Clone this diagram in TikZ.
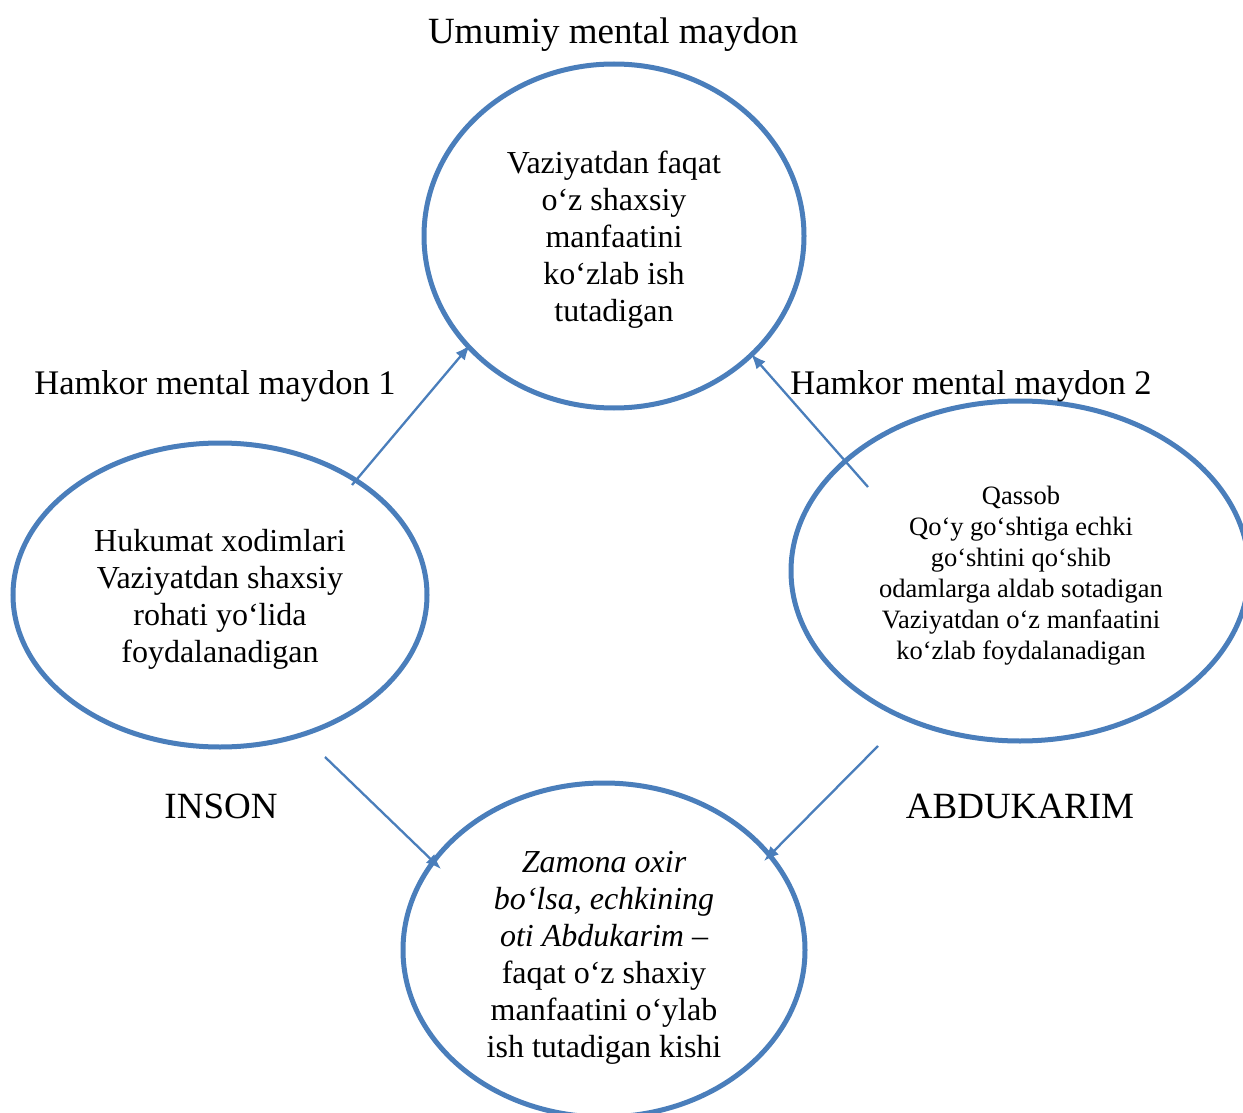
\documentclass[tikz,border=0pt]{standalone}
\usepackage{fontspec}
\setmainfont{Liberation Serif}
\usetikzlibrary{arrows.meta}
\definecolor{eblue}{HTML}{4A7EBB}
\tikzset{
  ell/.style={draw=eblue, line width=5pt},
  conn/.style={draw=eblue, line width=2.3pt, -{Latex[length=15pt,width=12pt]}},
  big/.style={font=\fontsize{32}{37}\selectfont, align=center, inner sep=0pt},
  lab/.style={font=\fontsize{34.5}{40}\selectfont, align=center, inner sep=0pt},
  huge/.style={font=\fontsize{37}{42}\selectfont, align=center, inner sep=0pt},
  small/.style={font=\fontsize{26.5}{31}\selectfont, align=center, inner sep=0pt},
}
\begin{document}
\begin{tikzpicture}[x=1pt,y=-1pt]
\useasboundingbox (0,0) rectangle (1243,1113);
\clip (0,0) rectangle (1243,1113);
% ellipses
\draw[ell] (614,236) ellipse [x radius=190, y radius=172];
\draw[ell] (220,595) ellipse [x radius=207, y radius=152];
\draw[ell] (1020,571) ellipse [x radius=229, y radius=170];
\draw[ell] (604,950) ellipse [x radius=201, y radius=167];
% anchor coordinates for connectors
\coordinate (a1s) at (352,485); \coordinate (a1e) at (470,345);
\coordinate (a2s) at (868,487); \coordinate (a2e) at (751,354);
\coordinate (a3s) at (325,757); \coordinate (a3e) at (441,869);
\coordinate (a4s) at (878,746); \coordinate (a4e) at (764,861);
\draw[conn] (a1s) -- (a1e);
\draw[conn] (a2s) -- (a2e);
\draw[conn] (a3s) -- (a3e);
\draw[conn] (a4s) -- (a4e);
% labels
\node[huge] (title) at (613,35) {Umumiy mental maydon};
\node[lab] (h1) at (215,386) {Hamkor mental maydon 1};
\node[lab] (h2) at (971,386) {Hamkor mental maydon 2};
\node[huge] (inson) at (221,806) {INSON};
\node[huge] (abdu) at (1020,806) {ABDUKARIM};
% ellipse texts
\node[big] (ttop) at (614,240) {Vaziyatdan faqat\\o‘z shaxsiy\\manfaatini\\ko‘zlab ish\\tutadigan};
\node[big] (tleft) at (220,599) {Hukumat xodimlari\\Vaziyatdan shaxsiy\\rohati yo‘lida\\foydalanadigan};
\node[small] (tright) at (1021,576) {Qassob\\Qo‘y go‘shtiga echki\\go‘shtini qo‘shib\\odamlarga aldab sotadigan\\Vaziyatdan o‘z manfaatini\\ko‘zlab foydalanadigan};
\node[big] (tbot) at (604,958) {\itshape Zamona oxir\\\itshape bo‘lsa, echkining\\\itshape oti Abdukarim –\\faqat o‘z shaxiy\\manfaatini o‘ylab\\ish tutadigan kishi};
\end{tikzpicture}
\end{document}
